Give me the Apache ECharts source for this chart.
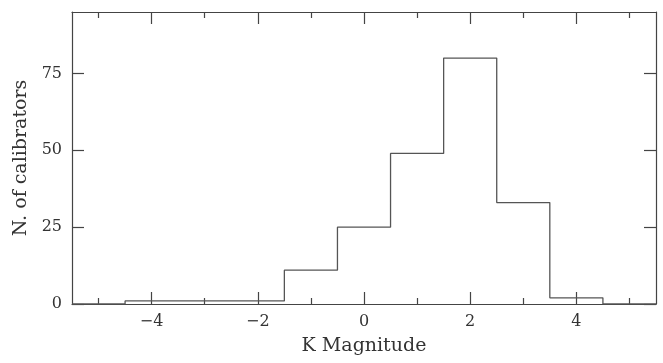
<!DOCTYPE html>
<html>
<head>
<meta charset="utf-8">
<script src="https://cdn.jsdelivr.net/npm/echarts@6/dist/echarts.min.js"></script>
<style>
  html, body {margin:0; padding:0; background:#fff;}
  #chart {width:663px; height:363px;}
</style>
</head>
<body>
<div id="chart"></div>
<script>
// bin centres (K magnitude), width 1
const binCenters = [-5, -4, -3, -2, -1, 0, 1, 2, 3, 4, 5];
// number of calibrators in each bin
const binCounts = [0, 1, 1, 1, 11, 25, 49, 80, 33, 2, 0];
const majorTicks = [-4, -2, 0, 2, 4];
const minorTicks = [-5, -3, -1, 1, 3, 5];
const yTicks = [0, 25, 50, 75];

const binWidth = 1;
// step line: each point is [left edge, count], then close at the last right edge
let steps = [];
for (let i = 0; i < binCenters.length; i++) {
  steps.push([binCenters[i] - binWidth / 2, binCounts[i]]);
}
steps.push([binCenters[binCenters.length - 1] + binWidth / 2, 0]);

const font = 'DejaVu Serif';
const ink = '#444';

function xAxisDef(pos, ticks, len, labels, line) {
  return {
    type: 'value', position: pos, min: -5.5, max: 5.5,
    axisLine: {show: line, onZero: false, lineStyle: {color: ink, width: 1.2}},
    axisTick: {show: true, inside: true, length: len, customValues: ticks,
      lineStyle: {color: ink, width: 1.2}},
    axisLabel: {show: labels, customValues: ticks, margin: 10,
      fontFamily: font, fontSize: 16, color: '#333',
      formatter: v => (v < 0 ? '\u2212' + Math.abs(v) : '' + v)},
    splitLine: {show: false}
  };
}

function yAxisDef(pos, labels) {
  return {
    type: 'value', min: 0, max: 95, position: pos,
    axisLine: {show: true, onZero: false, lineStyle: {color: ink, width: 1.2}},
    axisTick: {inside: true, length: 12, customValues: yTicks, lineStyle: {color: ink, width: 1.2}},
    axisLabel: {show: labels, customValues: yTicks, margin: 10, fontFamily: font, fontSize: 16, color: '#333'},
    splitLine: {show: false}
  };
}

const chart = echarts.init(document.getElementById('chart'));
chart.setOption({
  animation: false,
  grid: {left: 72, right: 7, top: 12, bottom: 59},
  xAxis: [
    Object.assign(xAxisDef('bottom', majorTicks, 12, true, true),
      {name: 'K Magnitude', nameLocation: 'middle', nameGap: 33,
       nameTextStyle: {fontFamily: font, fontSize: 19, color: '#333'}}),
    xAxisDef('bottom', minorTicks, 6, false, false),
    xAxisDef('top', majorTicks, 12, false, true),
    xAxisDef('top', minorTicks, 6, false, false)
  ],
  yAxis: [
    Object.assign(yAxisDef('left', true),
      {name: 'N. of calibrators', nameLocation: 'middle', nameGap: 40,
       nameTextStyle: {fontFamily: font, fontSize: 19, color: '#333'}}),
    yAxisDef('right', false)
  ],
  series: [{
    type: 'line',
    step: 'end',
    data: steps,
    symbol: 'none',
    lineStyle: {color: '#555', width: 1.3}
  }]
});
</script>
</body>
</html>
